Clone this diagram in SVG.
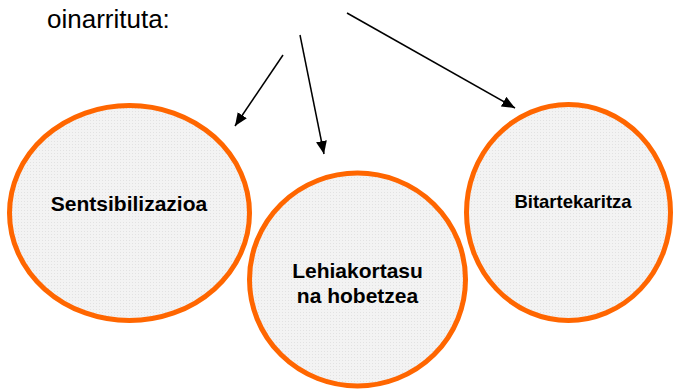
<svg xmlns="http://www.w3.org/2000/svg" width="675" height="389" viewBox="0 0 675 389">
<style>
.bubble{fill:url(#dots);stroke:#FF6600;stroke-width:5}
.lbl{font-family:"Liberation Sans",Arial,sans-serif;font-weight:bold;fill:#000;text-anchor:middle}
.conn{stroke:#000;stroke-width:1.5;fill:none;marker-end:url(#ah)}
</style>
<defs>
<pattern id="dots" width="3" height="3" patternUnits="userSpaceOnUse">
<rect width="3" height="3" fill="#f3f3f3"/>
<rect width="1" height="1" fill="#e2e2e2"/>
</pattern>
<marker id="ah" markerUnits="userSpaceOnUse" markerWidth="13" markerHeight="11" refX="13" refY="5.5" orient="auto">
<path d="M0,0 L13,5.5 L0,11 z" fill="#000"/>
</marker>
</defs>
<text x="47" y="28" font-family="'Liberation Sans',Arial,sans-serif" font-size="26" fill="#000">oinarrituta:</text>
<g id="connectors">
<line class="conn" x1="283" y1="55" x2="235" y2="126"/>
<line class="conn" x1="300" y1="35" x2="324" y2="154"/>
<line class="conn" x1="347" y1="13" x2="515" y2="108"/>
</g>
<g id="node-sentsibilizazioa">
<ellipse class="bubble" cx="129.5" cy="213" rx="120" ry="107.5"/>
<text class="lbl" x="129" y="211" font-size="21">Sentsibilizazioa</text>
</g>
<g id="node-lehiakortasuna">
<ellipse class="bubble" cx="357.5" cy="279.5" rx="108" ry="106.5"/>
<text class="lbl" x="357.5" y="278" font-size="21">Lehiakortasu</text>
<text class="lbl" x="357.5" y="303" font-size="21">na hobetzea</text>
</g>
<g id="node-bitartekaritza">
<ellipse class="bubble" cx="568.5" cy="212.5" rx="102" ry="108"/>
<text class="lbl" x="573" y="208" font-size="18.5">Bitartekaritza</text>
</g>
</svg>
